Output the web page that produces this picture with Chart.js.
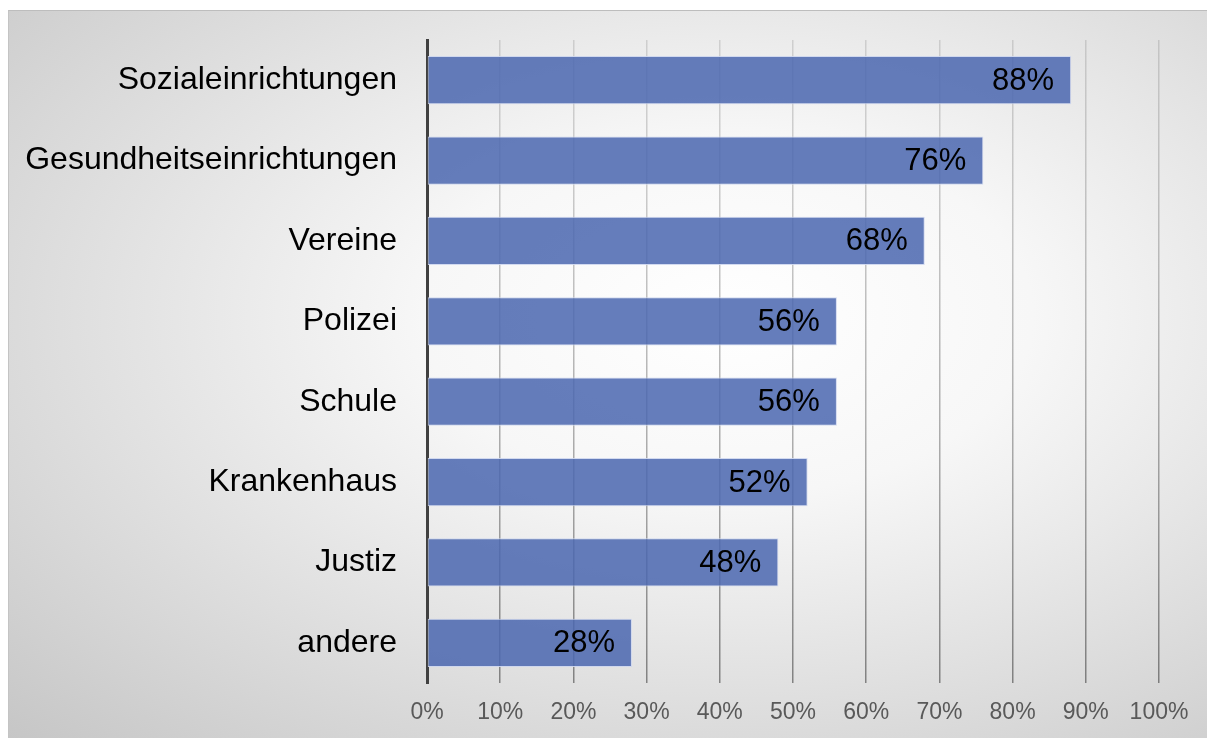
<!DOCTYPE html>
<html>
<head>
<meta charset="utf-8">
<script src="https://cdn.jsdelivr.net/npm/chart.js@4"></script>
<style>
  html, body { margin: 0; padding: 0; background: #fff; }
  #wrap {
    position: absolute; left: 8px; top: 10px;
    width: 1198px; height: 727px;
    border-top: 1px solid #bdbdbd; border-left: 1px solid #c4c4c4;
    background: radial-gradient(ellipse farthest-corner at 60% 42%, #ffffff 0%, #f7f7f7 30%, #c6c6c6 100%);
  }
  canvas { display: block; }
</style>
</head>
<body>
<div id="wrap"><canvas id="myChart" width="1198" height="727"></canvas></div>
<script>
// data
var categories = ['Sozialeinrichtungen', 'Gesundheitseinrichtungen', 'Vereine', 'Polizei', 'Schule', 'Krankenhaus', 'Justiz', 'andere'];
var values = [88, 76, 68, 56, 56, 52, 48, 28];
var tickMax = 100;
var tickStep = 10;

var fontFamily = "'Liberation Sans', Arial, sans-serif";

// labels inside the bar end
var valueLabels = {
  id: 'valueLabels',
  afterDatasetsDraw: function (chart) {
    var ctx = chart.ctx;
    var meta = chart.getDatasetMeta(0);
    ctx.save();
    ctx.font = '31px ' + fontFamily;
    ctx.fillStyle = '#000';
    ctx.textAlign = 'right';
    ctx.textBaseline = 'middle';
    meta.data.forEach(function (bar, i) {
      ctx.fillText(values[i] + '%', bar.x - 17, bar.y + 1);
    });
    ctx.restore();
  }
};

function gridColor(context) {
  var area = context.chart.chartArea;
  if (!area) return 'rgba(0,0,0,0.2)';
  var g = context.chart.ctx.createLinearGradient(0, area.top, 0, area.bottom);
  g.addColorStop(0, 'rgba(0,0,0,0.12)');
  g.addColorStop(1, 'rgba(0,0,0,0.42)');
  return g;
}

var ctx = document.getElementById('myChart').getContext('2d');
var myChart = new Chart(ctx, {
  type: 'bar',
  data: {
    labels: categories,
    datasets: [{
      data: values,
      backgroundColor: 'rgba(74,102,175,0.85)',
      borderColor: 'rgba(205,214,238,0.9)',
      borderWidth: 1,
      borderSkipped: false,
      categoryPercentage: 1,
      barPercentage: 0.6
    }]
  },
  options: {
    indexAxis: 'y',
    responsive: false,
    animation: false,
    layout: { padding: { top: 29, right: 48, left: 0, bottom: 0 } },
    plugins: {
      legend: { display: false },
      tooltip: { enabled: false }
    },
    scales: {
      x: {
        min: 0,
        max: tickMax,
        ticks: {
          stepSize: tickStep,
          color: '#595959',
          font: { family: fontFamily, size: 23 },
          padding: 16,
          callback: function (v) { return v + '%'; }
        },
        grid: { color: gridColor, lineWidth: 1.5, drawTicks: false },
        border: { display: false },
        afterFit: function (scale) { scale.height = 55; }
      },
      y: {
        ticks: {
          color: '#000',
          font: { family: fontFamily, size: 32 },
          padding: 30
        },
        grid: { display: false, drawTicks: false },
        border: { display: true, color: '#404040', width: 3 },
        afterFit: function (scale) {
          scale.width = 418;
          scale.paddingTop = 0;
          scale.paddingBottom = 0;
        }
      }
    }
  },
  plugins: [valueLabels]
});
</script>
</body>
</html>
